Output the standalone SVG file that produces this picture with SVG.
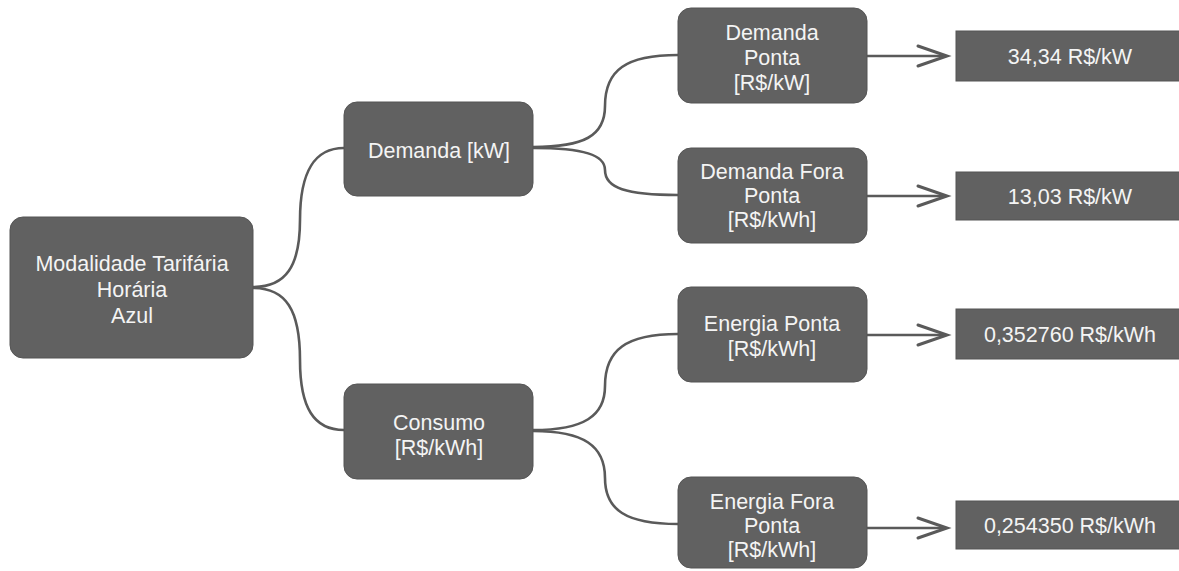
<svg xmlns="http://www.w3.org/2000/svg" width="1179" height="571" viewBox="0 0 1179 571">
<style>
.node{fill:#616161;stroke:#555555;stroke-width:1}
.val{fill:#616161;stroke:#555555;stroke-width:1}
.t{font-family:"Liberation Sans",Arial,sans-serif;font-size:21.5px;fill:#f4f4f4;text-anchor:middle}
.c{fill:none;stroke:#5a5a5a;stroke-width:2.6;stroke-linecap:round}
.a{fill:none;stroke:#5a5a5a;stroke-width:3;stroke-linecap:round;stroke-linejoin:miter}
</style>
<rect width="1179" height="571" fill="#ffffff"/>
<g id="connectors">
<path class="c" d="M253,287 C286,287 300,266 300,220 C300,172 314,148 344,148"/>
<path class="c" d="M253,288 C286,288 300,310 300,360 C300,408 314,430 344,430"/>
<path class="c" d="M533,147 C584,147 605,136 605,106 C605,70 626,55 678,55"/>
<path class="c" d="M533,148 C584,148 605,155 605,170 C605,188 626,195 678,195"/>
<path class="c" d="M533,430 C584,430 605,416 605,386 C605,350 626,334 678,334"/>
<path class="c" d="M533,431 C584,431 605,446 605,478 C605,510 626,524 678,524"/>
<line class="c" x1="867" y1="56" x2="945" y2="56"/>
<polyline class="a" points="918,46 947,56 918,66"/>
<line class="c" x1="867" y1="196" x2="945" y2="196"/>
<polyline class="a" points="918,186 947,196 918,206"/>
<line class="c" x1="867" y1="335" x2="945" y2="335"/>
<polyline class="a" points="918,325 947,335 918,345"/>
<line class="c" x1="867" y1="528" x2="945" y2="528"/>
<polyline class="a" points="918,518 947,528 918,538"/>
</g>
<g id="root">
<rect class="node" x="10" y="217" width="243" height="141" rx="13"/>
<text class="t" x="132" y="271">Modalidade Tarifária</text>
<text class="t" x="132" y="297">Horária</text>
<text class="t" x="132" y="323">Azul</text>
</g>
<g id="demanda">
<rect class="node" x="344" y="102" width="189" height="94" rx="13"/>
<text class="t" x="439" y="158">Demanda [kW]</text>
</g>
<g id="consumo">
<rect class="node" x="344" y="384" width="189" height="95" rx="13"/>
<text class="t" x="439" y="430">Consumo</text>
<text class="t" x="439" y="455">[R$/kWh]</text>
</g>
<g id="demanda-ponta">
<rect class="node" x="678" y="8" width="189" height="95" rx="13"/>
<text class="t" x="772" y="40">Demanda</text>
<text class="t" x="772" y="65">Ponta</text>
<text class="t" x="772" y="90">[R$/kW]</text>
</g>
<g id="demanda-fora-ponta">
<rect class="node" x="678" y="148" width="189" height="95" rx="13"/>
<text class="t" x="772" y="179">Demanda Fora</text>
<text class="t" x="772" y="203">Ponta</text>
<text class="t" x="772" y="227">[R$/kWh]</text>
</g>
<g id="energia-ponta">
<rect class="node" x="678" y="287" width="189" height="95" rx="13"/>
<text class="t" x="772" y="331">Energia Ponta</text>
<text class="t" x="772" y="356">[R$/kWh]</text>
</g>
<g id="energia-fora-ponta">
<rect class="node" x="678" y="477" width="189" height="91" rx="13"/>
<text class="t" x="772" y="509">Energia Fora</text>
<text class="t" x="772" y="533">Ponta</text>
<text class="t" x="772" y="557">[R$/kWh]</text>
</g>
<g id="valor-demanda-ponta">
<rect class="val" x="956" y="31" width="228" height="50"/>
<text class="t" x="1070" y="64">34,34 R$/kW</text>
</g>
<g id="valor-demanda-fora-ponta">
<rect class="val" x="956" y="172" width="228" height="48"/>
<text class="t" x="1070" y="204">13,03 R$/kW</text>
</g>
<g id="valor-energia-ponta">
<rect class="val" x="956" y="309" width="228" height="50"/>
<text class="t" x="1070" y="342">0,352760 R$/kWh</text>
</g>
<g id="valor-energia-fora-ponta">
<rect class="val" x="956" y="501" width="228" height="48"/>
<text class="t" x="1070" y="533">0,254350 R$/kWh</text>
</g>
</svg>
